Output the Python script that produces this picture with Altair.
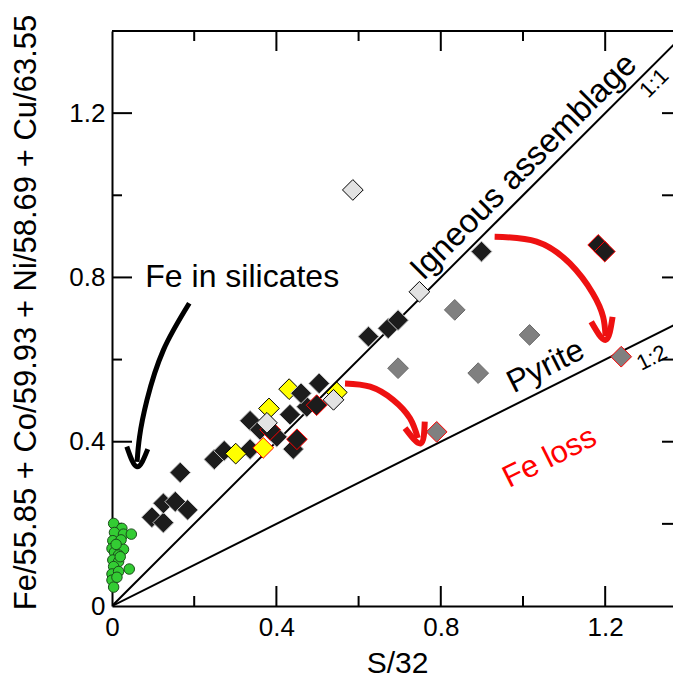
import altair as alt
import pandas as pd

FONT = "Liberation Sans"
X_MAX = 1.365
Y_MAX = 1.4

# ---- data: green circles (Fe in silicates) ----
sil_x = [0.004, 0.024, 0.006, 0.028, 0.047, 0.002, 0.022, 0.000, 0.028, 0.006, 0.016,
         0.002, 0.016, 0.042, 0.004, 0.000, 0.016, 0.000, 0.004, 0.010, 0.012, 0.020]
sil_y = [0.201, 0.189, 0.179, 0.175, 0.175, 0.159, 0.161, 0.140, 0.138, 0.131, 0.124,
         0.112, 0.108, 0.090, 0.096, 0.078, 0.084, 0.063, 0.046, 0.150, 0.070, 0.120]

# ---- data: diamonds (draw order) ----
dia_x = [0.431, 0.097, 0.125, 0.125, 0.154, 0.184, 0.166, 0.249, 0.273, 0.336, 0.336,
         0.360, 0.401, 0.441, 0.433, 0.474, 0.460, 0.504, 0.624, 0.672, 0.696, 0.899,
         0.301, 0.382, 0.547, 0.368,
         0.498, 0.385, 0.450, 1.183, 1.199,
         0.539, 0.377, 0.748, 0.586,
         0.834, 1.016, 0.696, 0.891,
         1.239, 0.790]
dia_y = [0.528, 0.216, 0.203, 0.250, 0.254, 0.234, 0.325, 0.357, 0.378, 0.382, 0.451,
         0.429, 0.412, 0.382, 0.466, 0.485, 0.518, 0.542, 0.656, 0.676, 0.696, 0.863,
         0.371, 0.481, 0.520, 0.385,
         0.489, 0.429, 0.406, 0.879, 0.863,
         0.502, 0.446, 0.765, 1.013,
         0.721, 0.660, 0.579, 0.567,
         0.607, 0.424]
dia_kind = (["yellow"] + ["black"] * 21 + ["yellow"] * 3 + ["yellow_red"] +
            ["black_red"] * 5 + ["lightgray"] * 4 + ["gray"] * 4 + ["gray_red"] * 2)

kinds = ["black", "black_red", "yellow", "yellow_red", "lightgray", "gray", "gray_red"]
kind_fill = ["#1c1c1c", "#1c1c1c", "#ffff00", "#ffff00", "#e2e2e2", "#808080", "#808080"]
kind_stroke = ["#c8c8c8", "#ff0000", "#000000", "#ff0000", "#000000", "#6a6a6a", "#ff0000"]

# ---- reference lines 1:1 and 1:2 ----
ratio_name = ["1:1", "1:1", "1:2", "1:2"]
ratio_x = [0.0, 1.4, 0.0, 1.4]
ratio_y = [0.0, 1.4, 0.0, 0.7]

# ---- curved arrows ----
blk_x = [0.188, 0.125, 0.085, 0.067, 0.061]
blk_y = [0.737, 0.623, 0.501, 0.412, 0.351]
blk_head_x = [0.036, 0.061, 0.087]
blk_head_y = [0.388, 0.339, 0.382]

red1_x = [0.931, 1.033, 1.114, 1.170, 1.195, 1.201]
red1_y = [0.899, 0.887, 0.834, 0.761, 0.704, 0.657]
red1_head_x = [1.166, 1.201, 1.218]
red1_head_y = [0.692, 0.648, 0.704]

red2_x = [0.567, 0.628, 0.684, 0.725, 0.744]
red2_y = [0.542, 0.534, 0.502, 0.457, 0.409]
red2_head_x = [0.713, 0.751, 0.761]
red2_head_y = [0.433, 0.396, 0.449]

# ---- ticks ----
major_ticks = [0.4, 0.8, 1.2]
minor_ticks = [0.2, 0.6, 1.0]
label_values = [0, 0.4, 0.8, 1.2]

xs = alt.Scale(domain=[0, X_MAX], nice=False, zero=False)
ys = alt.Scale(domain=[0, Y_MAX], nice=False, zero=False)
lab_expr = "datum.value == 0 ? '0' : format(datum.value, '.1f')"

xaxis = alt.Axis(values=label_values, labelExpr=lab_expr, ticks=False, grid=False,
                 domainColor="black", domainWidth=2, labelFontSize=26, labelColor="black",
                 labelFont=FONT, labelPadding=8, labelFlush=False, labelOverlap=False,
                 title="S/32", titleFont=FONT, titleFontSize=30, titleFontWeight="normal",
                 titleColor="black", titlePadding=8, titleX=285)
yaxis = alt.Axis(values=label_values, labelExpr=lab_expr, ticks=False, grid=False,
                 domainColor="black", domainWidth=2, labelFontSize=26, labelColor="black",
                 labelFont=FONT, labelPadding=7, labelFlush=False, labelOverlap=False,
                 title="Fe/55.85 + Co/59.93 + Ni/58.69 + Cu/63.55", titleFont=FONT,
                 titleFontSize=31, titleFontWeight="normal", titleColor="black",
                 titlePadding=26, titleY=281)


def X(field=None, datum=None):
    if datum is not None:
        return alt.X(datum=datum, type="quantitative", scale=xs, axis=xaxis)
    return alt.X(field, type="quantitative", scale=xs, axis=xaxis)


def Y(field=None, datum=None):
    if datum is not None:
        return alt.Y(datum=datum, type="quantitative", scale=ys, axis=yaxis)
    return alt.Y(field, type="quantitative", scale=ys, axis=yaxis)


sil_df = pd.DataFrame({"x": sil_x, "y": sil_y})
dia_df = pd.DataFrame({"x": dia_x, "y": dia_y, "kind": dia_kind})
ratio_df = pd.DataFrame({"name": ratio_name, "x": ratio_x, "y": ratio_y})
major_df = pd.DataFrame({"v": major_ticks})
minor_df = pd.DataFrame({"v": minor_ticks})
all_df = pd.DataFrame({"v": major_ticks + minor_ticks})


def path_df(xv, yv, name):
    return pd.DataFrame({"x": xv, "y": yv, "i": list(range(len(xv))), "name": name})


blk_df = pd.concat([path_df(blk_x, blk_y, "shaft"), path_df(blk_head_x, blk_head_y, "head")])
red_df = pd.concat([path_df(red1_x, red1_y, "s1"), path_df(red1_head_x, red1_head_y, "h1"),
                    path_df(red2_x, red2_y, "s2"), path_df(red2_head_x, red2_head_y, "h2")])

layers = []

# ratio lines
layers.append(alt.Chart(ratio_df).mark_line(color="black", strokeWidth=2, clip=True).encode(
    x=X("x"), y=Y("y"), detail="name:N"))

# frame top border
layers.append(alt.Chart(major_df).mark_rule(color="black", strokeWidth=2).encode(
    x=X(datum=0), x2=alt.X2(datum=X_MAX), y=Y(datum=Y_MAX)))

# inward ticks: left, bottom, top, right
for df, ln in ((major_df, 20), (minor_df, 10)):
    layers.append(alt.Chart(df).mark_rule(color="black", strokeWidth=2, x2Offset=ln).encode(
        y=Y("v"), x=X(datum=0), x2=alt.X2(datum=0)))
    layers.append(alt.Chart(df).mark_rule(color="black", strokeWidth=2, y2Offset=-ln).encode(
        x=X("v"), y=Y(datum=0), y2=alt.Y2(datum=0)))
    layers.append(alt.Chart(df).mark_rule(color="black", strokeWidth=2, y2Offset=ln).encode(
        x=X("v"), y=Y(datum=Y_MAX), y2=alt.Y2(datum=Y_MAX)))
layers.append(alt.Chart(all_df).mark_rule(color="black", strokeWidth=2, x2Offset=-11).encode(
    y=Y("v"), x=X(datum=X_MAX), x2=alt.X2(datum=X_MAX)))

# green circles
layers.append(alt.Chart(sil_df).mark_point(shape="circle", filled=True, size=110, color="#33cc33",
                                           stroke="#1a4d1a", strokeWidth=1, opacity=1).encode(
    x=X("x"), y=Y("y")))

# diamonds
layers.append(alt.Chart(dia_df).mark_point(shape="diamond", filled=True, size=430, strokeWidth=1,
                                           opacity=1).encode(
    x=X("x"), y=Y("y"),
    fill=alt.Fill("kind:N", scale=alt.Scale(domain=kinds, range=kind_fill), legend=None),
    stroke=alt.Stroke("kind:N", scale=alt.Scale(domain=kinds, range=kind_stroke), legend=None)))

# arrows
layers.append(alt.Chart(blk_df).mark_line(color="black", strokeWidth=5, interpolate="natural",
                                          strokeJoin="miter", strokeCap="butt").encode(
    x=X("x"), y=Y("y"), detail="name:N", order="i:Q"))
layers.append(alt.Chart(red_df).mark_line(color="#ee1111", strokeWidth=6, interpolate="natural",
                                          strokeJoin="miter", strokeCap="butt").encode(
    x=X("x"), y=Y("y"), detail="name:N", order="i:Q"))


# text annotations
def text_layer(label, x, y, size, angle=0, color="black", align="center"):
    df = pd.DataFrame({"t": [label], "x": [x], "y": [y]})
    props = dict(font=FONT, color=color, fontSize=size, align=align, baseline="alphabetic")
    if angle:
        props["angle"] = angle
    return alt.Chart(df).mark_text(**props).encode(x=X("x"), y=Y("y"), text="t:N")


layers.append(text_layer("Igneous assemblage", 1.019, 1.052, 33, 315))
layers.append(text_layer("Pyrite", 1.066, 0.562, 32, 333.5))
layers.append(text_layer("1:1", 1.331, 1.261, 22, 315))
layers.append(text_layer("1:2", 1.321, 0.589, 22, 333.5))
layers.append(text_layer("Fe loss", 1.075, 0.341, 31, 333.5, color="#ff0000"))
layers.append(text_layer("Fe in silicates", 0.081, 0.777, 32, 0, align="left"))

chart = alt.layer(*layers).properties(
    width=561, height=575,
    autosize=alt.AutoSizeParams(type="none"),
    padding={"left": 104, "top": 23, "right": 0, "bottom": 72},
    background="white",
).configure_view(strokeWidth=0)

chart.save("out.html", embed_options={"renderer": "svg", "actions": False})
